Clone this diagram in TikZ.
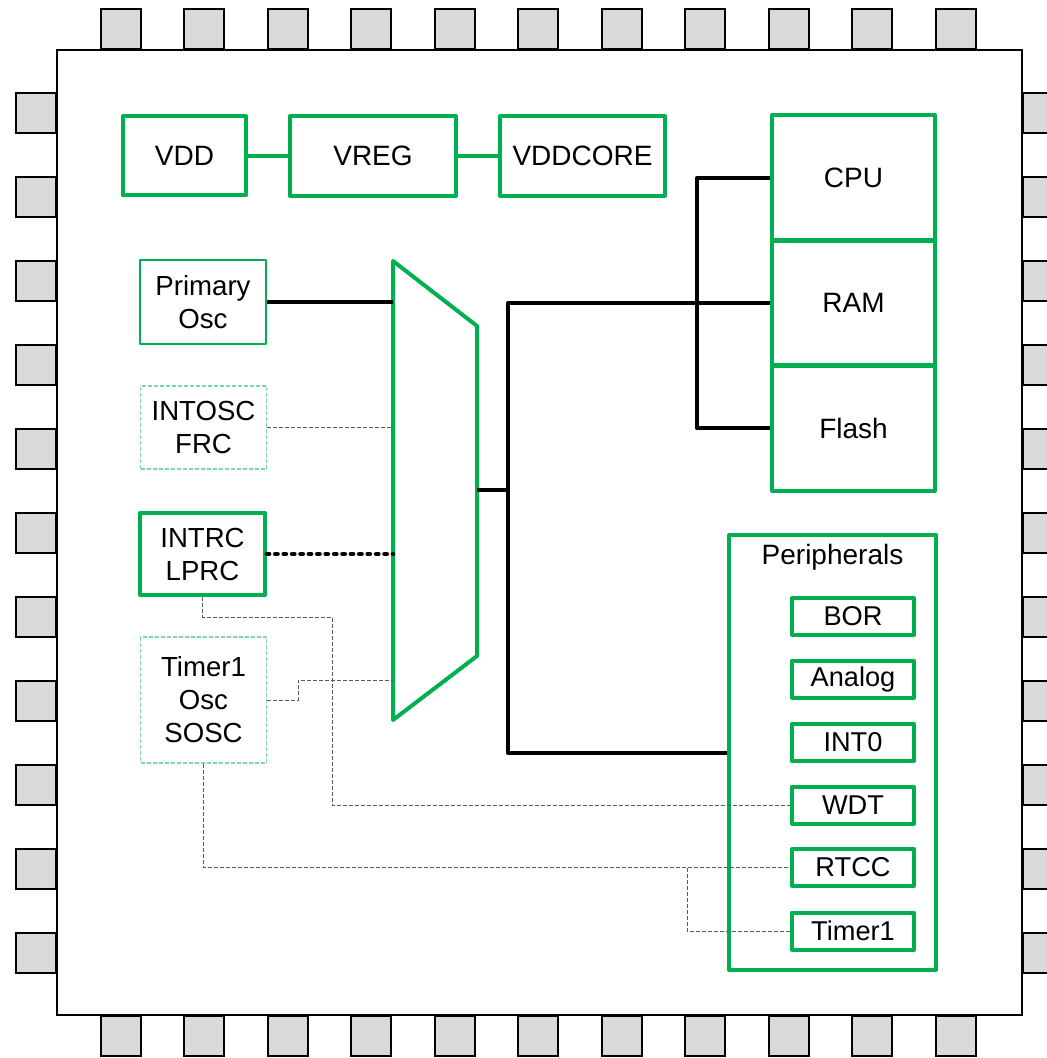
\documentclass[tikz,border=0pt]{standalone}
\usepackage{fontspec}
\setmainfont{Liberation Sans}
\usepackage{tikz}
\usetikzlibrary{calc}
\definecolor{chipgreen}{HTML}{00B050}
\definecolor{oscgreen}{HTML}{7DD8A5}
\definecolor{pingrey}{HTML}{D9D9D9}
\definecolor{wiregrey}{HTML}{595959}

\begin{document}
\begin{tikzpicture}[x=0.5pt, y=-0.5pt,
  pad/.style={draw=black, fill=pingrey, line width=1pt, minimum size=20pt, inner sep=0pt},
  blk/.style={draw=chipgreen, line width=2pt, line join=round, inner sep=0pt, align=center, font=\fontsize{14}{17}\selectfont},
  osc/.style={blk, font=\fontsize{13.8}{16.5}\selectfont},
  oscoff/.style={osc, draw=oscgreen, line width=0.6pt, dash pattern=on 2pt off 1pt},
  pbox/.style={blk, minimum width=61pt, minimum height=18.5pt, font=\fontsize{13.6}{16}\selectfont},
  bus/.style={line width=2pt, line join=round},
  lpwire/.style={line width=2.4pt, line cap=round, dash pattern=on 1pt off 3.2pt},
  offwire/.style={wiregrey, line width=0.5pt, dash pattern=on 2pt off 1pt},
]
\useasboundingbox (0,0) rectangle (1047,1058);

% Chip body and pads
\draw[line width=1pt, fill=white] (57,50) rectangle (1022,1015);
\foreach \i in {0,...,10} {
  \node[pad] (top\i) at (120.5+83.5*\i,29.5) {};
  \node[pad] (bot\i) at (120.5+83.5*\i,1035.5) {};
  \node[pad] (lft\i) at (36,113+83.95*\i) {};
  \node[pad] (rgt\i) at (1042.5,113+83.95*\i) {};
}

% Power
\node[blk, minimum width=61.5pt, minimum height=39.5pt] (vdd) at (184.5,156) {VDD};
\node[blk, minimum width=83pt, minimum height=40pt] (vreg) at (373,156) {VREG};
\node[blk, minimum width=82.5pt, minimum height=40pt] (vddcore) at (582.5,156) {VDDCORE};
\draw[chipgreen, line width=2pt] (vdd) -- (vreg);
\draw[chipgreen, line width=2pt] (vreg) -- (vddcore);

% CPU / RAM / Flash
\node[blk, minimum width=81.5pt, minimum height=63pt] (cpu) at (853.5,178) {CPU};
\node[blk, minimum width=81.5pt, minimum height=63pt] (ram) at (853.5,303) {RAM};
\node[blk, minimum width=81.5pt, minimum height=63pt] (flash) at (853.5,428) {Flash};

% Clock sources
\node[osc, line width=1.4pt, minimum width=63pt, minimum height=42pt] (posc) at (203,302) {Primary\\Osc};
\node[oscoff, minimum width=63pt, minimum height=41.5pt] (intosc) at (203.5,427.5) {INTOSC\\FRC};
\node[osc, minimum width=62.5pt, minimum height=41pt] (intrc) at (202.5,554) {INTRC\\LPRC};
\node[oscoff, minimum width=63pt, minimum height=63pt] (tosc) at (203.5,700) {Timer1\\Osc\\SOSC};

% Clock switch
\coordinate (m1) at (393,261);
\coordinate (m2) at (477,326);
\coordinate (m3) at (477,656);
\coordinate (m4) at (393,720);
\draw[chipgreen, line width=2pt, line join=round] (m1) -- (m2) -- (m3) -- (m4) -- cycle;

% Peripherals
\node[blk, minimum width=103.5pt, minimum height=217.5pt] (per) at (832.5,752.5) {};
\node[font=\fontsize{14}{16}\selectfont] (perlbl) at (832.5,557) {Peripherals};
\node[pbox] (bor) at (853,616.5) {BOR};
\node[pbox] (analog) at (853,679) {Analog};
\node[pbox] (int0) at (853,742.5) {INT0};
\node[pbox] (wdt) at (853,805) {WDT};
\node[pbox] (rtcc) at (853,867.5) {RTCC};
\node[pbox] (tmr) at (853,931) {Timer1};

% Clock inputs
\draw[bus] (posc.east) -- (posc.east -| m1);
\draw[offwire] (intosc.east) -- (intosc.east -| m1);
\draw[lpwire] (intrc.east) -- (intrc.east -| m1);
\coordinate (tbend) at (298,680);
\draw[offwire] (tosc.east) -| (tbend) -- (tbend -| m1);

% Clock outputs
\coordinate (mout) at (477,490);
\coordinate (jn) at (508,490);
\draw[bus] (mout) -- (jn);
\draw[bus] (ram.west) -| (jn |- per.west) -- (per.west);
\coordinate (mem) at (697,303);
\draw[bus] (cpu.west) -| (mem |- flash.west) -- (flash.west);

% LPRC / SOSC to peripherals
\coordinate (wbend) at (332,617);
\draw[offwire] (intrc.south) |- (wbend) |- (wdt.west);
\coordinate (tsplit) at (687,868);
\draw[offwire] (tosc.south) |- (rtcc.west);
\draw[offwire] (tsplit) |- (tmr.west);
\end{tikzpicture}
\end{document}
